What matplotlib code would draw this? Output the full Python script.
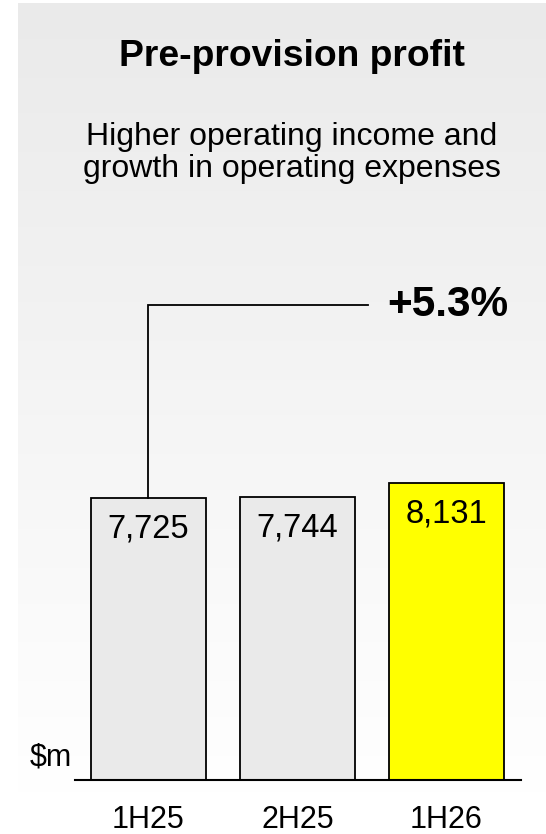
import numpy as np
import matplotlib.pyplot as plt

plt.rcParams['font.family'] = ['Liberation Sans', 'DejaVu Sans']

# data
periods = ['1H25', '2H25', '1H26']
profit = [7725, 7744, 8131]
bar_colors = ['#EAEAEA', '#EAEAEA', '#FFFF00']
growth_label = '+5.3%'

W, H = 546, 834
fig = plt.figure(figsize=(W / 100, H / 100), dpi=100)
fig.patch.set_facecolor('white')


def fx(px):
    return px / W


def fy(py):
    return 1 - py / H


# background panel with vertical gradient
bg = fig.add_axes([fx(18), 0, 1 - fx(18), fy(3)])
grad = np.linspace(0, 1, 256).reshape(-1, 1)
top_c = np.array([0.918, 0.918, 0.918])
bot_c = np.array([1.0, 1.0, 1.0])
t = np.clip(grad * 1.05, 0, 1)
img = top_c + (bot_c - top_c) * t[..., None] * np.ones((1, 1, 3))
bg.imshow(img, aspect='auto', extent=[0, 1, 0, 1], origin='upper')
bg.set_axis_off()

# bar axes
ymax = 14000
px_per_unit = 282 / 7725
ax_bottom, ax_left, ax_right = 780, 75, 521
ax_h = ymax * px_per_unit
ax = fig.add_axes([fx(ax_left), fy(ax_bottom), fx(ax_right - ax_left), ax_h / H])
ax.patch.set_alpha(0)
x = np.arange(len(periods))
ax.bar(x, profit, width=0.772, color=bar_colors, edgecolor='black', linewidth=1.3)
ax.set_xlim(-0.493, 2.5)
ax.set_ylim(0, ymax)
for s in ['top', 'right', 'left']:
    ax.spines[s].set_visible(False)
ax.spines['bottom'].set_linewidth(1.5)
ax.set_yticks([])
ax.set_xticks(x)
ax.set_xticklabels(periods, fontsize=22)
ax.tick_params(axis='x', length=0, pad=18)

for xi, v in zip(x, profit):
    ax.text(xi, v - 31 / px_per_unit, f'{v:,}', ha='center', va='center', fontsize=23.5)

# growth connector
y_line = (ax_bottom - 305) / px_per_unit
x_end = (368 - 148.5) / 149
ax.plot([0, 0, x_end], [profit[0], y_line, y_line], color='black', lw=1.3,
        clip_on=False, solid_joinstyle='miter')
ax.text((387 - 148.5) / 149, y_line, growth_label, ha='left', va='center',
        fontsize=30.5, fontweight='bold')

ax.text((72 - 148.5) / 149, 23 / px_per_unit, '$m', ha='right', va='center',
        fontsize=22, clip_on=False)

fig.text(fx(292), fy(57), 'Pre-provision profit', ha='center', va='center',
         fontsize=26.8, fontweight='bold')
fig.text(fx(292), fy(153), 'Higher operating income and\ngrowth in operating expenses',
         ha='center', va='center', fontsize=23, linespacing=1.12)

fig.savefig('out.png', dpi=100)
